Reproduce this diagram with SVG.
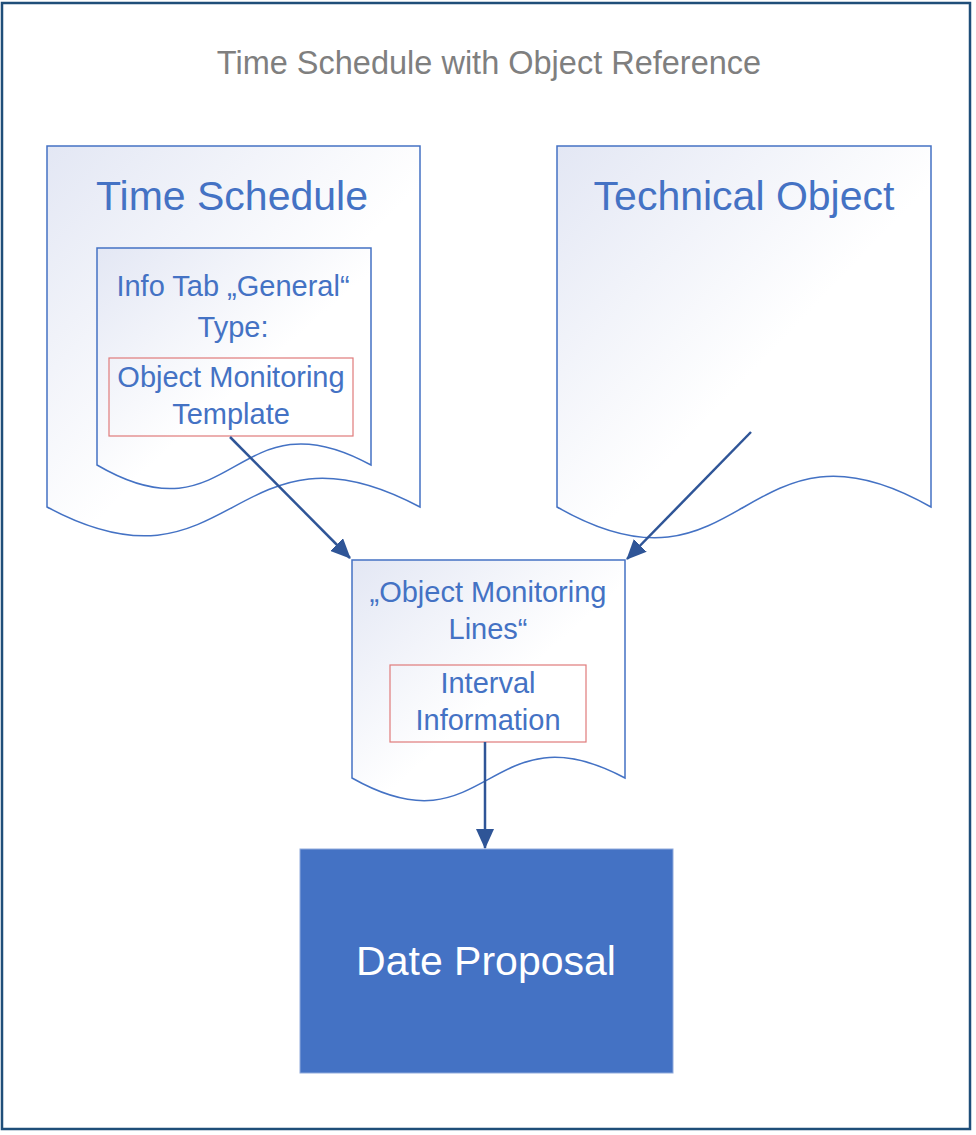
<svg xmlns="http://www.w3.org/2000/svg" width="976" height="1135" viewBox="0 0 976 1135">
<defs>
<linearGradient id="docfill" x1="0" y1="0" x2="1" y2="1">
<stop offset="0" stop-color="#E3E7F4"/>
<stop offset="0.55" stop-color="#FFFFFF"/>
<stop offset="1" stop-color="#FFFFFF"/>
</linearGradient>
<marker id="ah" markerUnits="userSpaceOnUse" markerWidth="20" markerHeight="18" viewBox="0 0 20 18" refX="19" refY="9" orient="auto">
<path d="M0,0 L20,9 L0,18 z" fill="#2F5597"/>
</marker>
<style>
.doc{fill:url(#docfill);stroke:#4472C4;stroke-width:1.5}
.inner{fill:none;stroke:#E07B7B;stroke-width:1.2}
.t{font-family:"Liberation Sans",Arial,sans-serif;fill:#4472C4;text-anchor:middle}
.big{font-size:41px}
.mid{font-size:29px}
.title{font-family:"Liberation Sans",Arial,sans-serif;fill:#7F7F7F;font-size:32.5px;text-anchor:middle}
.conn{fill:none;stroke:#2F5597;stroke-width:2.5;marker-end:url(#ah)}
</style>
</defs>
<rect x="2" y="3" width="968" height="1126" fill="#FFFFFF" stroke="#1F4E79" stroke-width="2.5"/>
<text class="title" x="489" y="74">Time Schedule with Object Reference</text>

<g id="time-schedule">
<path class="doc" d="M47,146 L420,146 L420,507 C233,407 233,607 47,507 Z"/>
<text class="t big" x="232" y="210">Time Schedule</text>
</g>

<g id="info-tab">
<path class="doc" d="M97,248 L371,248 L371,465 C234,390 234,545 97,465 Z"/>
<text class="t mid" x="233" y="296">Info Tab „General“</text>
<text class="t mid" x="233" y="337">Type:</text>
</g>

<g id="object-monitoring-template">
<rect class="inner" x="109" y="358" width="244" height="78"/>
<text class="t mid" x="231" y="387">Object Monitoring</text>
<text class="t mid" x="231" y="424">Template</text>
</g>

<g id="technical-object">
<path class="doc" d="M557,146 L931,146 L931,507 C744,400 744,614 557,507 Z"/>
<text class="t big" x="744" y="210">Technical Object</text>
</g>

<g id="object-monitoring-lines">
<path class="doc" d="M352,560 L625,560 L625,778 C488,705 488,855 352,778 Z"/>
<text class="t mid" x="488" y="602">„Object Monitoring</text>
<text class="t mid" x="488" y="639">Lines“</text>
</g>

<g id="interval-information">
<rect class="inner" x="390" y="665" width="196" height="77"/>
<text class="t mid" x="488" y="693">Interval</text>
<text class="t mid" x="488" y="730">Information</text>
</g>

<g id="date-proposal">
<rect x="300" y="849" width="373" height="224" fill="#4472C4" stroke="#8FAADC" stroke-width="1"/>
<text x="486" y="975" font-family="Liberation Sans, Arial, sans-serif" font-size="41" fill="#FFFFFF" text-anchor="middle">Date Proposal</text>
</g>

<g id="connectors">
<line class="conn" x1="230" y1="437" x2="350" y2="558"/>
<line class="conn" x1="751" y1="432" x2="627" y2="559"/>
<line class="conn" x1="485" y1="742" x2="485" y2="848"/>
</g>
</svg>
